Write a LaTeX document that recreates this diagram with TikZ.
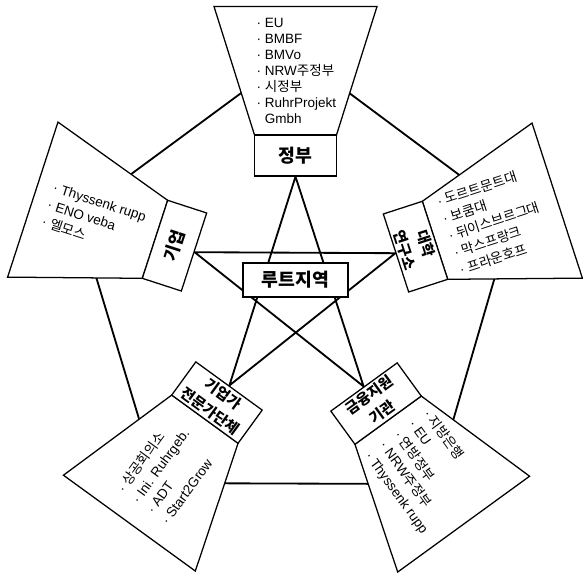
\documentclass[tikz,border=0pt]{standalone}
\usepackage{fontspec}
\setmainfont{Liberation Sans}
\newfontfamily\krfont{Noto Sans CJK KR}
\newcommand{\kr}[1]{{\krfont #1}}
\usetikzlibrary{backgrounds}

\tikzset{
  panel/.pic={
    \draw[line width=0.9pt, fill=white]
      (-41,41) -- (41,41) -- (81.5,169.5) -- (-81.5,169.5) -- cycle;
  },
  tagbox/.style={draw, line width=0.9pt, fill=white, inner sep=0pt,
    minimum width=2.05cm, minimum height=1.025cm, align=center,
    font=\bfseries\fontsize{10.5}{15.5}\selectfont},
  itemlist/.style={align=left, inner sep=0pt,
    font=\fontsize{9.6}{12.8}\selectfont},
  link/.style={line width=1.3pt},
}

\begin{document}
\begin{tikzpicture}[x=0.025cm, y=0.025cm]
  \useasboundingbox (0,0) rectangle (583,577);

  % government (top)
  \begin{scope}[shift={(295.5,401)}]
    \pic[transform shape] {panel};
    \coordinate (gov-v) at (0,123);
    \node[tagbox, font=\bfseries\fontsize{13}{15}\selectfont] (gov) at (0,20.5) {\kr{정부}};
    \node[itemlist, font=\fontsize{9.6}{11.4}\selectfont] (gov-list) at (1,105)
      {·\ EU\\ ·\ BMBF\\ ·\ BMVo\\ ·\ NRW\kr{주정부}\\ ·\ \kr{시정부}\\
       ·\ RuhrProjekt\\ \phantom{·\ }Gmbh};
  \end{scope}

  % companies (left)
  \begin{scope}[shift={(194,325)}, rotate=72]
    \pic[transform shape] {panel};
    \coordinate (firm-v) at (0,123);
    \node[tagbox, rotate=72, font=\bfseries\fontsize{12}{15}\selectfont] (firm) at (0,20.5) {\kr{기업}};
    \node[itemlist, rotate=-18] (firm-list) at (0,105)
      {·\ Thyssenk rupp\\ ·\ ENO veba\\ ·\ \kr{엘모스}};
  \end{scope}

  % universities (right)
  \begin{scope}[shift={(396,324)}, rotate=-72]
    \pic[transform shape] {panel};
    \coordinate (univ-v) at (0,123);
    \node[tagbox, rotate=-72] (univ) at (0,20.5) {\kr{대학}\\ \kr{연구소}};
    \node[itemlist, rotate=18] (univ-list) at (0,103)
      {·\ \kr{도르트문트대}\\ ·\ \kr{보쿰대}\\ ·\ \kr{뒤이스브르그대}\\
       ·\ \kr{막스프랑크}\\ ·\ \kr{프라운호프}};
  \end{scope}

  % entrepreneurs (lower left)
  \begin{scope}[shift={(229,191)}, rotate=144]
    \pic[transform shape] {panel};
    \coordinate (expert-v) at (0,120);
    \node[tagbox, rotate=-36] (expert) at (0,20.5) {\kr{기업가}\\ \kr{전문가단체}};
    \node[itemlist, rotate=54] (expert-list) at (0,105)
      {·\ \kr{상공회의소}\\ ·\ Ini. Ruhrgeb.\\ ·\ ADT\\ ·\ Start2Grow};
  \end{scope}

  % funding (lower right)
  \begin{scope}[shift={(364,190)}, rotate=-144]
    \pic[transform shape] {panel};
    \coordinate (fin-v) at (0,120);
    \node[tagbox, rotate=36] (fin) at (0,20.5) {\kr{금융지원}\\ \kr{기관}};
    \node[itemlist, rotate=-54] (fin-list) at (0,105)
      {·\ \kr{지방은행}\\ ·\ EU\\ ·\ \kr{연방정부}\\ ·\ NRW\kr{주정부}\\
       ·\ Thyssenk rupp};
  \end{scope}

  \node[draw, line width=0.9pt, fill=white, minimum width=2.625cm,
        minimum height=0.85cm, font=\bfseries\fontsize{13}{15}\selectfont]
        (hub) at (295.5,297) {\kr{루트지역}};

  \begin{scope}[on background layer]
    % pentagon
    \draw[link] (gov-v) -- (univ-v) -- (fin-v) -- (expert-v) -- (firm-v) -- cycle;
    % star
    \draw[link] (gov.south) -- (expert.north) -- (univ.south)
      -- (firm.south) -- (fin.north) -- cycle;
  \end{scope}
\end{tikzpicture}
\end{document}
